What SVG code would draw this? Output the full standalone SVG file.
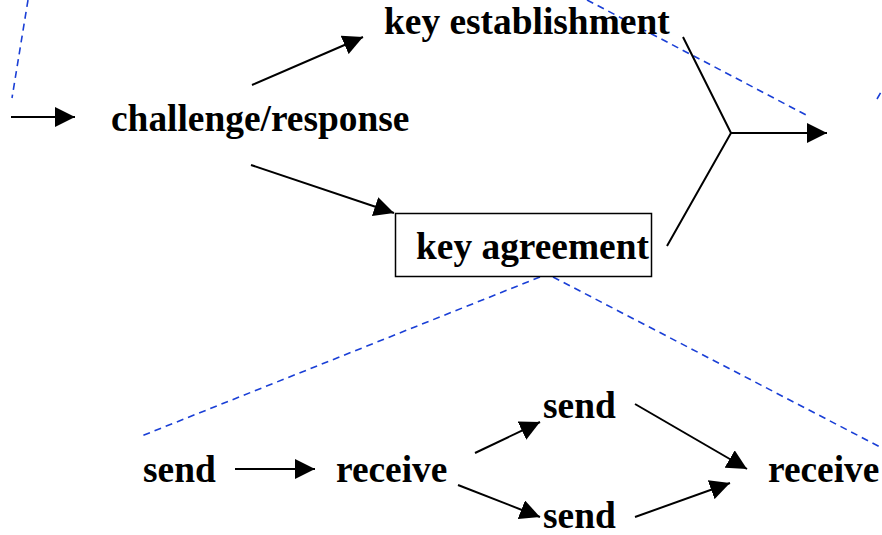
<svg xmlns="http://www.w3.org/2000/svg" width="882" height="535" viewBox="0 0 882 535">
<style>
  .t { font-family: "Liberation Serif", "Times New Roman", serif; font-weight: bold; font-size: 37.4px; fill: #000; }
  .c { stroke: #000; stroke-width: 2; fill: none; }
  .ca { stroke: #000; stroke-width: 2; fill: none; marker-end: url(#ah); }
  .d { stroke: #1a3fd6; stroke-width: 1.6; fill: none; stroke-dasharray: 7 5; }
</style>
<defs>
  <marker id="ah" viewBox="0 0 20 20" refX="20" refY="10" markerWidth="20" markerHeight="20" markerUnits="userSpaceOnUse" orient="auto">
    <path d="M0,0 L20,10 L0,20 z" fill="#000"/>
  </marker>
</defs>
<rect width="882" height="535" fill="#fff"/>
<g id="zoom-lines">
  <line class="d" x1="28" y1="0" x2="12" y2="98"/>
  <line class="d" x1="587" y1="0" x2="810" y2="117"/>
  <line class="d" x1="877" y1="99" x2="884" y2="87"/>
  <line class="d" x1="540" y1="277" x2="139" y2="437"/>
  <line class="d" x1="553" y1="277" x2="884" y2="449"/>
</g>
<g id="connectors">
  <line class="ca" x1="11" y1="117" x2="75" y2="117"/>
  <line class="ca" x1="252" y1="85" x2="363" y2="37"/>
  <line class="ca" x1="251" y1="165" x2="394" y2="213"/>
  <polyline class="c" points="683,37 731,133 667,246"/>
  <line class="ca" x1="731" y1="133" x2="827" y2="133"/>
  <line class="ca" x1="235" y1="469" x2="315" y2="469"/>
  <line class="ca" x1="475" y1="453" x2="540" y2="422"/>
  <line class="ca" x1="458" y1="485" x2="540" y2="517"/>
  <line class="ca" x1="635" y1="404" x2="747" y2="469"/>
  <line class="ca" x1="635" y1="517" x2="730" y2="483"/>
</g>
<g id="challenge-response"><text class="t" x="111" y="131">challenge/response</text></g>
<g id="key-establishment"><text class="t" x="384" y="34">key establishment</text></g>
<g id="key-agreement">
  <rect x="395.5" y="213.5" width="256" height="63" fill="none" stroke="#000" stroke-width="1.5"/>
  <text class="t" x="416" y="259">key agreement</text>
</g>
<g id="send1"><text class="t" x="143" y="482">send</text></g>
<g id="receive1"><text class="t" x="336" y="482">receive</text></g>
<g id="send2"><text class="t" x="543" y="418">send</text></g>
<g id="send3"><text class="t" x="543" y="528">send</text></g>
<g id="receive2"><text class="t" x="768" y="482">receive</text></g>
</svg>
